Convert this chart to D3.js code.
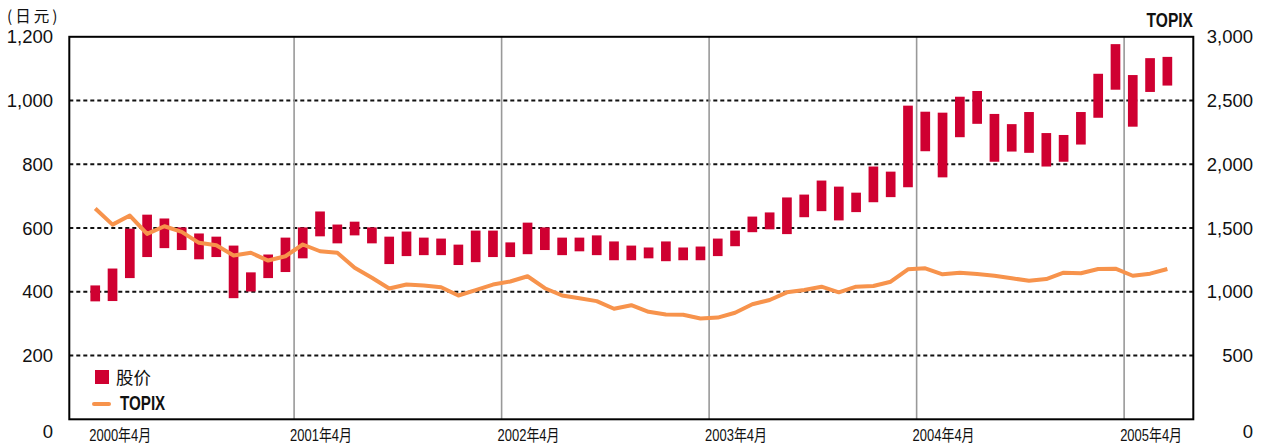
<!DOCTYPE html>
<html><head><meta charset="utf-8">
<script src="https://cdn.jsdelivr.net/npm/d3@7"></script>
<style>body{margin:0;background:#fff} svg{display:block}</style>
</head><body><svg id="c" width="1262" height="443"></svg>
<script>
// ---- data ----
const priceLow  = [370,371,443,509,537,531,502,509,380,401,443,462,505,574,552,577,552,487,512,515,
                   515,484,493,509,509,518,531,515,527,515,499,499,505,496,499,499,512,543,587,596,
                   581,634,653,624,650,681,697,728,841,759,885,927,808,840,836,793,808,862,946,1034,
                   918,1027,1047];
const priceHigh = [420,473,598,642,630,602,583,573,545,461,517,570,602,652,611,620,602,573,589,570,
                   567,548,592,592,555,617,602,570,570,577,558,545,539,558,539,542,567,592,636,649,
                   696,705,749,730,711,793,777,984,965,962,1012,1030,958,926,964,898,892,964,1084,1177,
                   1080,1133,1137];
const topix     = [1653,1527,1598,1454,1514,1470,1384,1365,1285,1306,1245,1279,1371,1318,1306,1188,1110,1026,1057,1050,
                   1036,971,1013,1057,1081,1122,1028,971,950,927,867,895,843,822,820,791,798,836,902,936,
                   996,1014,1040,996,1040,1045,1079,1176,1184,1137,1149,1139,1126,1106,1087,1100,1150,1145,1179,1181,
                   1126,1142,1179];
const months = d3.timeMonth.range(new Date(2000,3,1), new Date(2005,6,1)); // Apr 2000 .. Jun 2005
const xTickLabels = ["2000年4月","2001年4月","2002年4月","2003年4月","2004年4月","2005年4月"];
const leftTicks  = [0,200,400,600,800,1000,1200];
const rightTicks = [0,500,1000,1500,2000,2500,3000];
const leftUnit = "(日元)";
const rightTitle = "TOPIX";
const legendLabels = ["股价","TOPIX"];

// ---- layout ----
const L = 69.3, R = 1193.3, T = 36.8, B = 419.3;
const RED = "#cf0031", ORANGE = "#f7934c";
const svg = d3.select("#c");
const x = d3.scaleLinear().domain([-1, months.length + 1]).range([L, R]);
const yL = d3.scaleLinear().domain([0,1200]).range([B, T]);
const yR = d3.scaleLinear().domain([0,3000]).range([B, T]);
const fmt = d3.format(",");
const numFont = "'Liberation Sans', Arial, sans-serif";
const cjk = "'Liberation Sans', 'Noto Sans CJK SC', sans-serif";

// horizontal dotted grid
svg.append("g").selectAll("line").data(leftTicks.filter(d => d > 0 && d < 1200)).join("line")
  .attr("x1", L).attr("x2", R).attr("y1", d => yL(d)).attr("y2", d => yL(d))
  .attr("stroke", "#111").attr("stroke-width", 2).attr("stroke-dasharray", "4,3");

// vertical year lines (April boundaries)
const aprIdx = months.map((m,i) => m.getMonth() === 3 ? i : -1).filter(i => i >= 0);
svg.append("g").selectAll("line").data(aprIdx.filter(i => i > 0)).join("line")
  .attr("x1", i => x(i)).attr("x2", i => x(i)).attr("y1", T).attr("y2", B)
  .attr("stroke", "#999").attr("stroke-width", 1.6);

// bars
const bw = (x(1) - x(0)) * 0.56;
svg.append("g").selectAll("rect").data(months).join("rect")
  .attr("x", (m,i) => x(i + 0.5) - bw/2).attr("width", bw)
  .attr("y", (m,i) => yL(priceHigh[i])).attr("height", (m,i) => yL(priceLow[i]) - yL(priceHigh[i]))
  .attr("fill", RED);

// TOPIX line
svg.append("path").datum(topix)
  .attr("d", d3.line().x((d,i) => x(i + 0.5)).y(d => yR(d)))
  .attr("fill", "none").attr("stroke", ORANGE).attr("stroke-width", 4).attr("stroke-linejoin", "round");

// frame
svg.append("rect").attr("x", L).attr("y", T).attr("width", R - L).attr("height", B - T)
  .attr("fill", "none").attr("stroke", "#000").attr("stroke-width", 2);

// left axis labels
svg.append("g").selectAll("text").data(leftTicks).join("text")
  .attr("x", 53).attr("y", d => yL(d) + (d === 0 ? 12 : 0)).attr("dy", "0.36em")
  .attr("text-anchor", "end").attr("font-family", numFont).attr("font-size", 18.5).attr("fill", "#111")
  .text(d => fmt(d));
// right axis labels
svg.append("g").selectAll("text").data(rightTicks).join("text")
  .attr("x", 1253).attr("y", d => yR(d) + (d === 0 ? 12 : 0)).attr("dy", "0.36em")
  .attr("text-anchor", "end").attr("font-family", numFont).attr("font-size", 18.5).attr("fill", "#111")
  .text(d => fmt(d));

// x tick labels (condensed)
svg.append("g").selectAll("text").data(xTickLabels).join("text")
  .attr("transform", (d,k) => `translate(${Math.max(x(aprIdx[k]) - 4, L + 20)},441) scale(0.81,1)`)
  .attr("font-family", cjk).attr("font-size", 16).attr("fill", "#111")
  .text(d => d);

// unit & title
svg.append("text").attr("x", 7).attr("y", 22).attr("font-family", "'Noto Sans CJK SC', sans-serif")
  .attr("font-size", 15.5).attr("letter-spacing", 3).attr("fill", "#111").text(leftUnit);
svg.append("text").attr("transform", "translate(1193,27) scale(0.76,1)").attr("text-anchor", "end")
  .attr("font-family", numFont).attr("font-weight", "bold").attr("font-size", 20.5).attr("fill", "#111").text(rightTitle);

// legend
const lg = svg.append("g");
lg.append("rect").attr("x", 95).attr("y", 370).attr("width", 14).attr("height", 14).attr("fill", RED);
lg.append("text").attr("x", 116).attr("y", 384).attr("font-family", "'Noto Sans CJK SC', sans-serif")
  .attr("font-size", 17.5).attr("fill", "#111").text(legendLabels[0]);
lg.append("line").attr("x1", 94).attr("x2", 109).attr("y1", 404).attr("y2", 404)
  .attr("stroke", ORANGE).attr("stroke-width", 4).attr("stroke-linecap", "round");
lg.append("text").attr("transform", "translate(120,410) scale(0.74,1)").attr("font-family", numFont).attr("font-weight", "bold")
  .attr("font-size", 20.5).attr("fill", "#111").text(legendLabels[1]);
</script></body></html>
